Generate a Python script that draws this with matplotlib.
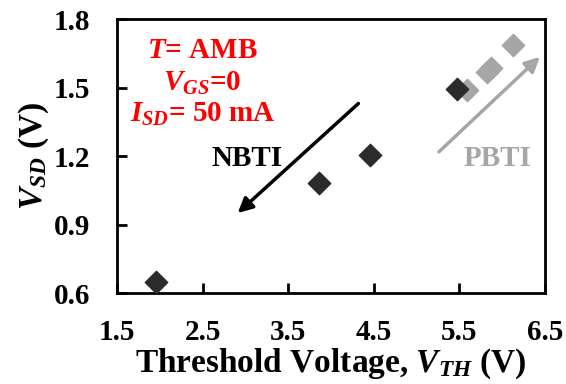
import matplotlib
matplotlib.use("Agg")
import matplotlib.pyplot as plt

plt.rcParams['font.family'] = ['Liberation Serif', 'DejaVu Serif']
plt.rcParams['font.weight'] = 'bold'
plt.rcParams['axes.labelweight'] = 'bold'
plt.rcParams['mathtext.fontset'] = 'custom'
plt.rcParams['mathtext.it'] = 'Liberation Serif:italic:bold'
plt.rcParams['mathtext.rm'] = 'Liberation Serif:bold'
plt.rcParams['mathtext.bf'] = 'Liberation Serif:bold'

# NBTI (black) and PBTI (gray) points
vth_nbti = [1.96, 3.86, 4.46, 5.47]
vsd_nbti = [0.648, 1.08, 1.204, 1.495]
vth_pbti = [5.59, 5.82, 5.87, 6.13]
vsd_pbti = [1.488, 1.57, 1.585, 1.686]

xticks = [1.5, 2.5, 3.5, 4.5, 5.5, 6.5]
yticks = [0.6, 0.9, 1.2, 1.5, 1.8]

fig = plt.figure(figsize=(5.66, 3.84), dpi=100)
ax = fig.add_axes([117/566, 1 - 293/384, 428/566, 274/384])

ax.scatter(vth_pbti, vsd_pbti, marker='D', s=130, color='#a6a6a6', zorder=3)
ax.scatter(vth_nbti, vsd_nbti, marker='D', s=130, color='#2b2b2b', zorder=4)

ax.set_xlim(1.5, 6.5)
ax.set_ylim(0.6, 1.8)
ax.set_xticks(xticks)
ax.set_yticks(yticks)
ax.set_xticklabels([f"{v:.1f}" for v in xticks])
ax.set_yticklabels([f"{v:.1f}" for v in yticks])
ax.tick_params(direction='in', length=7, width=2, labelsize=21)
ax.tick_params(axis='x', pad=19)
ax.tick_params(axis='y', pad=19)
for s in ax.spines.values():
    s.set_linewidth(2)

ax.set_xlabel(r'Threshold Voltage, $\mathit{V_{TH}}$ (V)', fontsize=24, labelpad=0)
ax.set_ylabel(r'$\mathit{V_{SD}}$ (V)', fontsize=24, labelpad=2)

# arrows
ax.annotate('', xy=(2.91, 0.95), xytext=(4.32, 1.43),
            arrowprops=dict(arrowstyle='-|>', color='black', lw=2.5,
                            mutation_scale=22, shrinkA=0, shrinkB=0))
ax.annotate('', xy=(6.44, 1.634), xytext=(5.26, 1.218),
            arrowprops=dict(arrowstyle='-|>', color='#a6a6a6', lw=2.5,
                            mutation_scale=22, shrinkA=0, shrinkB=0))

ax.text(3.02, 1.19, 'NBTI', fontsize=21, color='black', ha='center', va='center')
ax.text(5.95, 1.187, 'PBTI', fontsize=21, color='#a6a6a6', ha='center', va='center')

red = '#ff0000'
ax.text(2.50, 1.664, r'$\mathit{T}$= AMB', fontsize=21, color=red, ha='center', va='center')
ax.text(2.50, 1.52, r'$\mathit{V_{GS}}$=0', fontsize=21, color=red, ha='center', va='center')
ax.text(2.50, 1.38, r'$\mathit{I_{SD}}$= 50 mA', fontsize=21, color=red, ha='center', va='center')

fig.savefig('out.png', dpi=100)
